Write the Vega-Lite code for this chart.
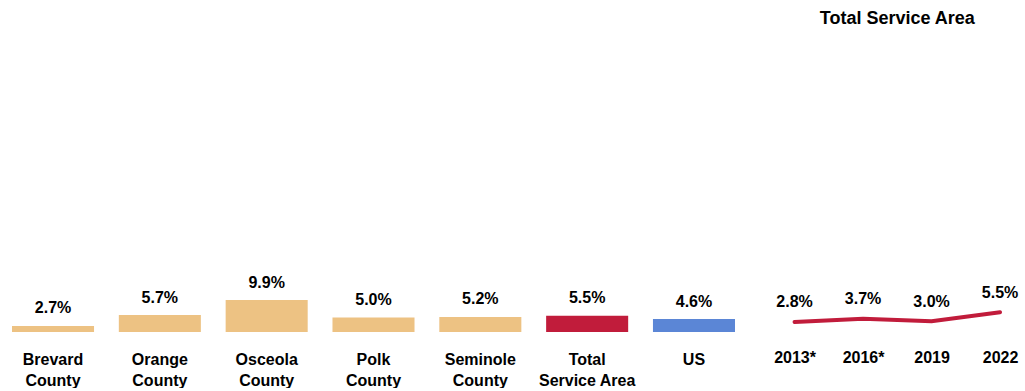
{
  "$schema": "https://vega.github.io/schema/vega-lite/v6.json",
  "padding": {"left": 0, "top": 10, "right": 0, "bottom": 0},
  "bounds": "flush",
  "spacing": 27,
  "config": {"view": {"stroke": null}, "font": "Liberation Sans"},
  "datasets": {
    "counties": [
      {"area": "Brevard|County", "pct": 0.027, "group": "county"},
      {"area": "Orange|County", "pct": 0.057, "group": "county"},
      {"area": "Osceola|County", "pct": 0.099, "group": "county"},
      {"area": "Polk|County", "pct": 0.050, "group": "county"},
      {"area": "Seminole|County", "pct": 0.052, "group": "county"},
      {"area": "Total|Service Area", "pct": 0.055, "group": "total"},
      {"area": "US", "pct": 0.046, "group": "us"}
    ],
    "trend": [
      {"year": "2013*", "pct": 0.028},
      {"year": "2016*", "pct": 0.037},
      {"year": "2019", "pct": 0.030},
      {"year": "2022", "pct": 0.055}
    ]
  },
  "hconcat": [
    {
      "width": 747,
      "height": 250,
      "data": {"name": "counties"},
      "encoding": {
        "x": {
          "field": "area", "type": "nominal", "sort": null,
          "scale": {"paddingInner": 0.232, "paddingOuter": 0.1123},
          "axis": {
            "title": null, "labelExpr": "split(datum.label, '|')", "labelAngle": 0,
            "ticks": false, "domain": false, "grid": false,
            "labelFontSize": 16, "labelFontWeight": "bold", "labelColor": "#000000",
            "labelFont": "Liberation Sans",
            "labelBaseline": "alphabetic", "labelPadding": 32, "labelLineHeight": 21
          }
        },
        "y": {
          "field": "pct", "type": "quantitative",
          "scale": {"domain": [0.01, 0.70444], "zero": false, "nice": false},
          "axis": null
        }
      },
      "layer": [
        {
          "mark": {"type": "bar"},
          "encoding": {
            "y2": {"datum": 0.01},
            "color": {
              "field": "group", "type": "nominal",
              "scale": {"domain": ["county", "total", "us"], "range": ["#EDC283", "#C11C3B", "#5B86D6"]},
              "legend": null
            }
          }
        },
        {
          "mark": {"type": "text", "baseline": "alphabetic", "dy": -12.4, "fontSize": 16, "fontWeight": "bold", "font": "Liberation Sans", "color": "#000000"},
          "encoding": {"text": {"field": "pct", "type": "quantitative", "format": ".1%"}}
        }
      ]
    },
    {
      "width": 246.6,
      "height": 250,
      "data": {"name": "trend"},
      "title": {
        "text": "Total Service Area", "fontSize": 18, "fontWeight": "bold",
        "font": "Liberation Sans", "color": "#000000",
        "baseline": "alphabetic", "offset": 40, "anchor": "middle", "frame": "group"
      },
      "encoding": {
        "x": {
          "field": "year", "type": "ordinal", "sort": null,
          "scale": {"type": "point", "padding": 0.3},
          "axis": {
            "title": null, "labelAngle": 0, "ticks": false, "domain": false, "grid": false,
            "labelFontSize": 16, "labelFontWeight": "bold", "labelColor": "#000000",
            "labelFont": "Liberation Sans",
            "labelBaseline": "alphabetic", "labelPadding": 30, "labelLineHeight": 21
          }
        },
        "y": {
          "field": "pct", "type": "quantitative",
          "scale": {"domain": [0, 0.69444], "nice": false},
          "axis": null
        }
      },
      "layer": [
        {"mark": {"type": "line", "color": "#C11C3B", "strokeWidth": 4, "strokeCap": "round"}},
        {
          "mark": {"type": "text", "baseline": "alphabetic", "dy": -14.6, "fontSize": 16, "fontWeight": "bold", "font": "Liberation Sans", "color": "#000000"},
          "encoding": {"text": {"field": "pct", "type": "quantitative", "format": ".1%"}}
        }
      ]
    }
  ]
}
